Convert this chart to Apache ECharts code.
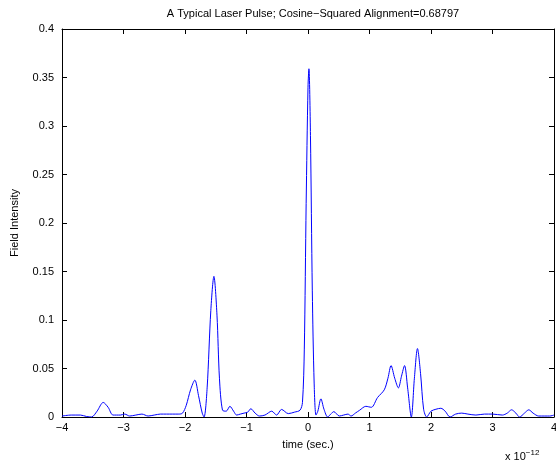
<!DOCTYPE html>
<html>
<head>
<meta charset="utf-8">
<script src="https://cdn.jsdelivr.net/npm/echarts@6/dist/echarts.min.js"></script>
<style>
  html, body { margin: 0; padding: 0; background: #fff; }
  #chart { width: 556px; height: 464px; }
</style>
</head>
<body>
<div id="chart"></div>
<script>
// time in units of 1e-12 s
const times = [
  -4.0, -3.85, -3.7, -3.6, -3.52, -3.43, -3.33, -3.25, -3.17, -3.05,
  -2.98, -2.9, -2.8, -2.7, -2.6, -2.5, -2.4, -2.3, -2.2, -2.1,
  -2.04, -1.98, -1.91, -1.84, -1.78, -1.72, -1.69, -1.64, -1.58, -1.53,
  -1.48, -1.44, -1.39, -1.33, -1.27, -1.21, -1.16, -1.1, -1.04, -0.98,
  -0.93, -0.86, -0.79, -0.7, -0.59, -0.51, -0.43, -0.32, -0.22, -0.13,
  -0.09, -0.06, -0.03, 0.0, 0.015, 0.04, 0.07, 0.1, 0.13, 0.16,
  0.21, 0.26, 0.32, 0.37, 0.42, 0.51, 0.58, 0.65, 0.7, 0.77,
  0.84, 0.94, 1.03, 1.13, 1.24, 1.3, 1.35, 1.41, 1.47, 1.52,
  1.57, 1.62, 1.68, 1.73, 1.78, 1.83, 1.88, 1.93, 2.0, 2.08,
  2.16, 2.23, 2.31, 2.4, 2.5, 2.6, 2.73, 2.87, 3.0, 3.16,
  3.24, 3.31, 3.38, 3.44, 3.52, 3.59, 3.66, 3.75, 3.85, 3.93, 4.0
]
const intensity = [
  0.001, 0.002, 0.002, 0.0005, 0.0, 0.006, 0.015, 0.01, 0.002, 0.002,
  0.003, 0.001, 0.002, 0.003, 0.001, 0.002, 0.003, 0.003, 0.003, 0.003,
  0.004, 0.012, 0.028, 0.038, 0.022, 0.004, 0.0, 0.03, 0.11, 0.145,
  0.105, 0.04, 0.007, 0.006, 0.011, 0.006, 0.002, 0.003, 0.004, 0.005,
  0.0085, 0.004, 0.001, 0.002, 0.006, 0.002, 0.0078, 0.0035, 0.005, 0.007,
  0.015, 0.07, 0.22, 0.34, 0.359, 0.29, 0.13, 0.035, 0.002, 0.006,
  0.0187, 0.008, 0.0, 0.003, 0.0055, 0.001, 0.002, 0.003, 0.001, 0.004,
  0.007, 0.011, 0.010, 0.02, 0.028, 0.04, 0.053, 0.04, 0.03, 0.042,
  0.053, 0.03, 0.0, 0.04, 0.0706, 0.045, 0.008, 0.0, 0.006, 0.008,
  0.009, 0.006, 0.0, 0.003, 0.004, 0.003, 0.002, 0.003, 0.003, 0.002,
  0.004, 0.0074, 0.004, 0.0, 0.004, 0.0074, 0.004, 0.001, 0.001, 0.001, 0.002
]
const titleText = 'A Typical Laser Pulse; Cosine\u2212Squared Alignment=0.68797'

const chart = echarts.init(document.getElementById('chart'))
const font = 'Liberation Sans, Arial, Helvetica, sans-serif'
const fmtNum = v => (v < 0 ? '\u2212' + Math.abs(v) : String(v))

const frameAxis = {
  axisLine: { show: true, onZero: false, lineStyle: { color: '#000', width: 1 } },
  axisTick: { show: true, inside: true, length: 5, lineStyle: { color: '#000' } },
  splitLine: { show: false }
}

chart.setOption({
  animation: false,
  backgroundColor: '#fff',
  title: {
    text: titleText,
    left: 308,
    top: 3,
    textAlign: 'center',
    textStyle: { fontFamily: font, fontSize: 11, fontWeight: 'normal', color: '#000' }
  },
  grid: { left: 62, right: 2, top: 29, bottom: 47, containLabel: false, outerBoundsMode: 'none' },
  xAxis: [
    {
      type: 'value', min: -4, max: 4, interval: 1, position: 'bottom',
      ...frameAxis,
      axisLabel: { color: '#000', fontFamily: font, fontSize: 11, margin: 5, formatter: fmtNum,
        showMinLabel: true, showMaxLabel: true },
      name: 'time (sec.)', nameLocation: 'middle', nameGap: 22,
      nameTextStyle: { color: '#000', fontFamily: font, fontSize: 11 }
    },
    {
      type: 'value', min: -4, max: 4, interval: 1, position: 'top',
      ...frameAxis, axisLabel: { show: false }
    }
  ],
  yAxis: [
    {
      type: 'value', min: 0, max: 0.4, interval: 0.05, position: 'left',
      ...frameAxis,
      axisLabel: { color: '#000', fontFamily: font, fontSize: 11, margin: 8 },
      name: 'Field Intensity', nameLocation: 'middle', nameGap: 42,
      nameTextStyle: { color: '#000', fontFamily: font, fontSize: 11 }
    },
    {
      type: 'value', min: 0, max: 0.4, interval: 0.05, position: 'right',
      ...frameAxis, axisLabel: { show: false }
    }
  ],
  graphic: [
    {
      type: 'text', left: 505, top: 449,
      style: {
        text: '{b|x 10}{s|\u221212}',
        rich: {
          b: { fontFamily: font, fontSize: 11, fill: '#000', padding: [8, 0, 0, 0] },
          s: { fontFamily: font, fontSize: 8, fill: '#000' }
        }
      }
    }
  ],
  series: [
    {
      type: 'line',
      xAxisIndex: 0, yAxisIndex: 0,
      data: times.map((t, i) => [t, intensity[i]]),
      smooth: 0.3,
      symbol: 'none',
      lineStyle: { color: '#0000ff', width: 1 }
    }
  ]
})
</script>
</body>
</html>
